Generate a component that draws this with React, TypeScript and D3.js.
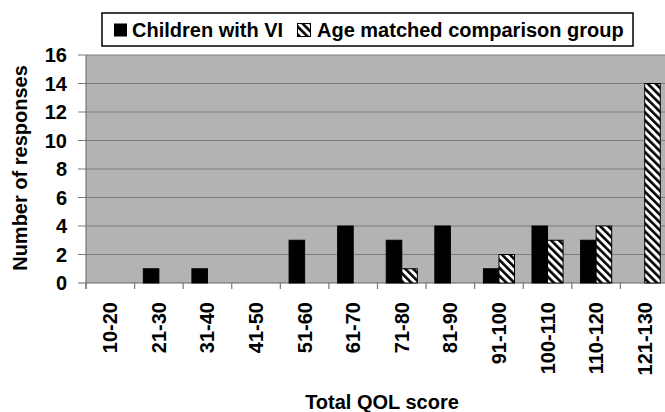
import React from 'react'
import * as d3 from 'd3'

const categories = ['10-20', '21-30', '31-40', '41-50', '51-60', '61-70', '71-80', '81-90', '91-100', '100-110', '110-120', '121-130']
const childrenVI = [0, 1, 1, 0, 3, 4, 3, 4, 1, 4, 3, 0]
const comparison = [0, 0, 0, 0, 0, 0, 1, 0, 2, 3, 4, 14]
const yTicks = [0, 2, 4, 6, 8, 10, 12, 14, 16]
const seriesNames = ['Children with VI', 'Age matched comparison group']

const width = 665
const height = 412
const margin = { top: 55, right: -4, bottom: 129, left: 86 }
const font = '"Liberation Sans", Arial, sans-serif'

export default function App() {
    const x = d3
        .scaleBand()
        .domain(categories)
        .range([margin.left, width - margin.right])
    const bw = x.bandwidth()
    const barW = bw * 0.32
    const groupOffset = (bw - barW * 2) / 2
    const y = d3
        .scaleLinear()
        .domain([0, 16])
        .range([height - margin.bottom, margin.top])
    const y0 = y(0)

    return (
        <svg
            width={width}
            height={height}
            style={{ position: 'absolute', left: 0, top: 0, background: '#fff' }}
            fontFamily={font}
            fontWeight="bold"
        >
            <defs>
                <pattern id="hatch" patternUnits="userSpaceOnUse" width={5.6} height={5.6} patternTransform="rotate(-45)">
                    <rect width={5.6} height={5.6} fill="#fff" />
                    <rect width={2.6} height={5.6} fill="#000" />
                </pattern>
            </defs>

            {/* plot background */}
            <rect x={margin.left} y={margin.top} width={width - margin.right - margin.left} height={y0 - margin.top} fill="#b3b3b3" />

            {/* gridlines */}
            {yTicks.map((t) => (
                <line key={t} x1={margin.left - 8} x2={width} y1={y(t)} y2={y(t)} stroke={t === 0 ? '#666' : '#7c7c7c'} strokeWidth={1.2} />
            ))}

            {/* left axis */}
            <line x1={margin.left} x2={margin.left} y1={margin.top} y2={y0 + 6} stroke="#777" strokeWidth={1.2} />

            {/* x ticks at band edges */}
            {categories.map((c) => (
                <line key={c} x1={x(c)!} x2={x(c)!} y1={y0} y2={y0 + 6} stroke="#777" strokeWidth={1.2} />
            ))}

            {/* bars */}
            {categories.map((c, i) => (
                <g key={c}>
                    {childrenVI[i] > 0 && (
                        <rect
                            x={x(c)! + groupOffset}
                            y={y(childrenVI[i])}
                            width={barW}
                            height={y0 - y(childrenVI[i])}
                            fill="#000"
                            stroke="#000"
                        />
                    )}
                    {comparison[i] > 0 && (
                        <rect
                            x={x(c)! + groupOffset + barW}
                            y={y(comparison[i])}
                            width={barW}
                            height={y0 - y(comparison[i])}
                            fill="url(#hatch)"
                            stroke="#000"
                        />
                    )}
                </g>
            ))}

            {/* y tick labels */}
            {yTicks.map((t) => (
                <text key={t} x={67} y={y(t)} dy="0.35em" textAnchor="end" fontSize={20}>
                    {t}
                </text>
            ))}

            {/* x tick labels */}
            {categories.map((c) => (
                <text
                    key={c}
                    transform={`translate(${x(c)! + bw / 2},302) rotate(-90)`}
                    dy="0.35em"
                    textAnchor="end"
                    fontSize={20}
                >
                    {c}
                </text>
            ))}

            {/* axis titles */}
            <text transform="translate(20,168) rotate(-90)" dy="0.35em" textAnchor="middle" fontSize={20}>
                Number of responses
            </text>
            <text x={382} y={409} textAnchor="middle" fontSize={20}>
                Total QOL score
            </text>

            {/* legend */}
            <rect x={102} y={13} width={531} height={33} fill="#fff" stroke="#000" strokeWidth={1.5} />
            <rect x={114} y={23.5} width={13} height={13} fill="#000" />
            <text x={132} y={30} dy="0.35em" fontSize={20}>
                {seriesNames[0]}
            </text>
            <rect x={297.5} y={23.5} width={13} height={13} fill="url(#hatch)" stroke="#000" />
            <text x={317} y={30} dy="0.35em" fontSize={20}>
                {seriesNames[1]}
            </text>
        </svg>
    )
}
